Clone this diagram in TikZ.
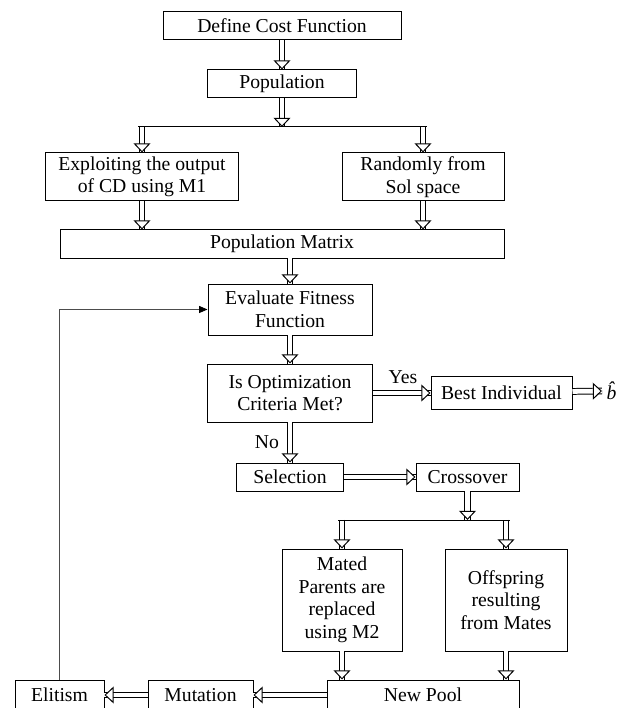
\documentclass[tikz,border=0pt]{standalone}
\usepackage{fontspec}
\setmainfont{Liberation Serif}
\usepackage{tikz}
\usetikzlibrary{arrows.meta,positioning,calc,decorations.markings}

\begin{document}
\begin{tikzpicture}[font=\fontsize{14}{16}\selectfont,
  blk/.style={draw,line width=0.7pt,inner sep=0pt,align=center,minimum height=7mm},
  dbl/.style={double,double distance=3.4pt,line width=0.7pt,
    postaction={decorate,decoration={markings,mark=at position 1 with
      {\pgfsetinnerlinewidth{0pt}\arrow[line width=0.7pt]{Triangle[fill=white,length=6.5pt,width=12pt]}}}}},
  ln/.style={line width=0.7pt}]
\useasboundingbox (0,0) rectangle (15.725,17.7);
% --- initial population ---
\node[blk,minimum width=5.95cm] (cost) at (7.05,17.05) {Define Cost Function};
\node[blk,minimum width=3.725cm] (pop) at (7.05,15.6) {Population};
\node[blk,minimum width=4.825cm,minimum height=1.2cm] (exploit) at (3.55,13.275) {Exploiting the output\\of CD using M1};
\node[blk,minimum width=4.05cm,minimum height=1.2cm] (rand) at (10.575,13.275) {Randomly from\\Sol space};
\node[blk,minimum width=11.1cm] (matrix) at (7.05,11.6) {Population Matrix};
\coordinate (s1) at (7.05,14.525);
\coordinate (s1l) at (exploit.north |- s1);
\coordinate (s1r) at (rand.north |- s1);
\draw[dbl] (cost) -- (pop);
\draw[dbl] (pop) -- (s1);
\draw[dbl] (s1l) -- (exploit);
\draw[dbl] (s1r) -- (rand);
\draw[ln,shorten <=-2.6pt,shorten >=-2.6pt] (s1l) -- (s1r);
\draw[dbl] (exploit) -- (exploit.south |- matrix.north);
\draw[dbl] (rand) -- (rand.south |- matrix.north);
% --- evaluation loop ---
\node[blk,minimum width=4.1cm,minimum height=1.275cm] (eval) at (7.25,9.9625) {Evaluate Fitness\\Function};
\node[blk,minimum width=4.125cm,minimum height=1.45cm] (crit) at (7.25,7.875) {Is Optimization\\Criteria Met?};
\node[blk,minimum width=3.525cm,minimum height=8.25mm] (best) at (12.5375,7.8875) {Best Individual};
\node[inner sep=3pt,anchor=west] (bhat) at (15.05,7.93) {\textit{\^{b}}};
\node (yes) at (10.075,8.275) {Yes};
\node (no) at (6.675,6.65) {No};
\node[blk,minimum width=2.675cm] (sel) at (7.25,5.775) {Selection};
\node[blk,minimum width=2.575cm] (cross) at (11.6875,5.775) {Crossover};
\draw[dbl] (eval.south |- matrix.south) -- (eval);
\draw[dbl] (eval) -- (crit);
\draw[dbl] (crit.east) -- (crit.east -| best.west);
\draw[dbl] (best) -- (bhat);
\draw[dbl] (crit) -- (sel);
\draw[dbl] (sel) -- (cross);
% --- offspring and new pool ---
\node[blk,minimum width=3cm,minimum height=2.55cm] (mated) at (8.55,2.7) {Mated\\Parents are\\replaced\\using M2};
\node[blk,minimum width=3.05cm,minimum height=2.55cm] (offs) at (12.65,2.7) {Offspring\\resulting\\from Mates};
\node[blk,minimum width=4.8cm,minimum height=7.5mm] (pool) at (10.575,0.325) {New Pool};
\node[blk,minimum width=2.625cm,minimum height=7.5mm] (mut) at (5.0125,0.325) {Mutation};
\node[blk,minimum width=2.225cm,minimum height=7.5mm] (elit) at (1.4875,0.325) {Elitism};
\coordinate (s2) at (11.6875,4.7);
\coordinate (s2l) at (mated.north |- s2);
\coordinate (s2r) at (offs.north |- s2);
\draw[dbl] (cross) -- (s2);
\draw[dbl] (s2l) -- (mated);
\draw[dbl] (s2r) -- (offs);
\draw[ln,shorten <=-2.6pt,shorten >=-2.6pt] (s2l) -- (s2r);
\draw[dbl] (mated) -- (mated.south |- pool.north);
\draw[dbl] (offs) -- (offs.south |- pool.north);
\draw[dbl] (pool) -- (mut);
\draw[dbl] (mut) -- (elit);
\draw[ln,black!70,-{Triangle[length=6pt,width=5pt,black]}] (elit.north) |- (eval.west);
\end{tikzpicture}
\end{document}
